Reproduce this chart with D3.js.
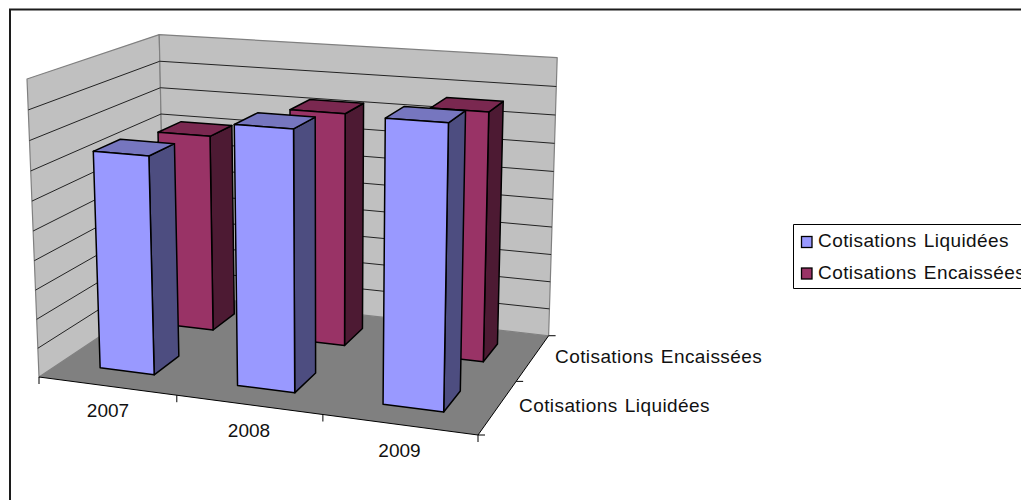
<!DOCTYPE html>
<html>
<head>
<meta charset="utf-8">
<script src="https://cdn.jsdelivr.net/npm/d3@7/dist/d3.min.js"></script>
<style>
  html, body { margin: 0; padding: 0; background: #fff; overflow: hidden; }
  svg { display: block; }
  text { font-family: "Liberation Sans", Arial, sans-serif; font-size: 19px; fill: #111; }
  text.name { letter-spacing: 0.42px; word-spacing: 1.5px; }
</style>
</head>
<body>
<svg id="chart" width="1021" height="500"></svg>
<script>
const years = ["2007", "2008", "2009"];
const seriesNames = ["Cotisations Liquidées", "Cotisations Encaissées"];
const liquidees = [7.45, 8.7, 9.25];
const encaissees = [7.1, 8.25, 8.65];
const valueTicks = [0, 1, 2, 3, 4, 5, 6, 7, 8, 9, 10];

const frontColors = ["#9999ff", "#993366"];
const topColors = ["#7676bf", "#7a2850"];
const sideColors = ["#4d4d80", "#4d1a33"];

const svg = d3.select("#chart");

// Scales into the unit cube of the 3D plot
const uScale = d3.scaleBand().domain(years).range([0, 1]);
const vScale = d3.scaleBand().domain(seriesNames).range([0, 1]);
const wScale = d3.scaleLinear().domain([0, 10]).range([0, 1]);

// Excel style perspective: corners of the plot box and the foreshortening terms
const O = [39, 377], U = [478, 435], V = [165, 293], W = [27, 79];
const cu = -0.085, cv = 0.16, cw = -0.04;

function project(u, v, w) {
  const d = 1 + cu * u + cv * v + cw * w;
  const c = i => O[i]
    + u * (U[i] * (1 + cu) - O[i])
    + v * (V[i] * (1 + cv) - O[i])
    + w * (W[i] * (1 + cw) - O[i]);
  return [c(0) / d, c(1) / d];
}

const poly = pts => pts.map(p => project(...p).map(n => n.toFixed(2)).join(",")).join(" ");

function face(pts, fill, stroke, width) {
  svg.append("polygon")
    .attr("points", poly(pts))
    .attr("fill", fill)
    .attr("stroke", stroke)
    .attr("stroke-width", width)
    .attr("stroke-linejoin", "round");
}

function seg(a, b, stroke, width) {
  const p = project(...a), q = project(...b);
  svg.append("line")
    .attr("x1", p[0]).attr("y1", p[1])
    .attr("x2", q[0]).attr("y2", q[1])
    .attr("stroke", stroke)
    .attr("stroke-width", width);
}

// Walls
face([[0, 0, 0], [0, 1, 0], [0, 1, 1], [0, 0, 1]], "#c0c0c0", "#808080", 1.2);
face([[0, 1, 0], [1, 1, 0], [1, 1, 1], [0, 1, 1]], "#c0c0c0", "#808080", 1.2);

// Gridlines, no labels on the value axis
valueTicks.slice(1, -1).forEach(t => {
  const w = wScale(t);
  seg([0, 0, w], [0, 1, w], "#222", 1);
  seg([0, 1, w], [1, 1, w], "#222", 1);
});

// Floor
face([[0, 0, 0], [1, 0, 0], [1, 1, 0], [0, 1, 0]], "#808080", "none", 0);

// Axis lines and ticks on the floor edges
seg([0, 0, 0], [1, 0, 0], "#000", 1);
seg([1, 0, 0], [1, 1, 0], "#000", 1);
d3.range(0, years.length + 1).forEach(i => {
  const p = project(i / years.length, 0, 0);
  svg.append("line")
    .attr("x1", p[0]).attr("y1", p[1])
    .attr("x2", p[0]).attr("y2", p[1] + 7)
    .attr("stroke", "#000");
});
d3.range(0, seriesNames.length + 1).forEach(i => {
  const p = project(1, i / seriesNames.length, 0);
  svg.append("line")
    .attr("x1", p[0]).attr("y1", p[1])
    .attr("x2", p[0] + 7).attr("y2", p[1])
    .attr("stroke", "#000");
});

// Columns: back series first so the front one covers it
const gap = 0.3;
[[1, encaissees], [0, liquidees]].forEach(([s, values]) => {
  const v0 = vScale(seriesNames[s]) + vScale.bandwidth() * gap;
  const v1 = vScale(seriesNames[s]) + vScale.bandwidth() * (1 - gap);
  years.forEach((year, i) => {
    const u0 = uScale(year) + uScale.bandwidth() * gap;
    const u1 = uScale(year) + uScale.bandwidth() * (1 - gap);
    const h = wScale(values[i]);
    face([[u1, v0, 0], [u1, v1, 0], [u1, v1, h], [u1, v0, h]], sideColors[s], "#000", 1.5);
    face([[u0, v0, h], [u1, v0, h], [u1, v1, h], [u0, v1, h]], topColors[s], "#000", 1.5);
    face([[u0, v0, 0], [u1, v0, 0], [u1, v0, h], [u0, v0, h]], frontColors[s], "#000", 1.5);
  });
});

// Category labels
const yearPos = [[108, 417], [249, 437], [399.5, 457]];
years.forEach((year, i) => {
  svg.append("text")
    .attr("x", yearPos[i][0]).attr("y", yearPos[i][1])
    .attr("text-anchor", "middle")
    .text(year);
});
const depthPos = [[519, 412], [555, 363]];
seriesNames.forEach((name, i) => {
  svg.append("text")
    .attr("class", "name")
    .attr("x", depthPos[i][0]).attr("y", depthPos[i][1])
    .text(name);
});

// Legend, runs off the right edge like the frame
svg.append("path")
  .attr("d", "M793.5,288.5V224.5H1021M793.5,288.5H1021")
  .attr("fill", "#fff")
  .attr("stroke", "#000");
seriesNames.forEach((name, i) => {
  svg.append("rect")
    .attr("x", 801.5).attr("y", 236.5 + i * 31.5)
    .attr("width", 10.5).attr("height", 11)
    .attr("fill", frontColors[i])
    .attr("stroke", "#000")
    .attr("stroke-width", 1.3);
  svg.append("text")
    .attr("class", "name")
    .attr("x", 818).attr("y", 247 + i * 32)
    .text(name);
});

// Chart area frame, clipped by the window on the right and bottom
svg.append("path")
  .attr("d", "M10,500V9.5H1021")
  .attr("fill", "none")
  .attr("stroke", "#1c1c1c")
  .attr("stroke-width", 2);
</script>
</body>
</html>
